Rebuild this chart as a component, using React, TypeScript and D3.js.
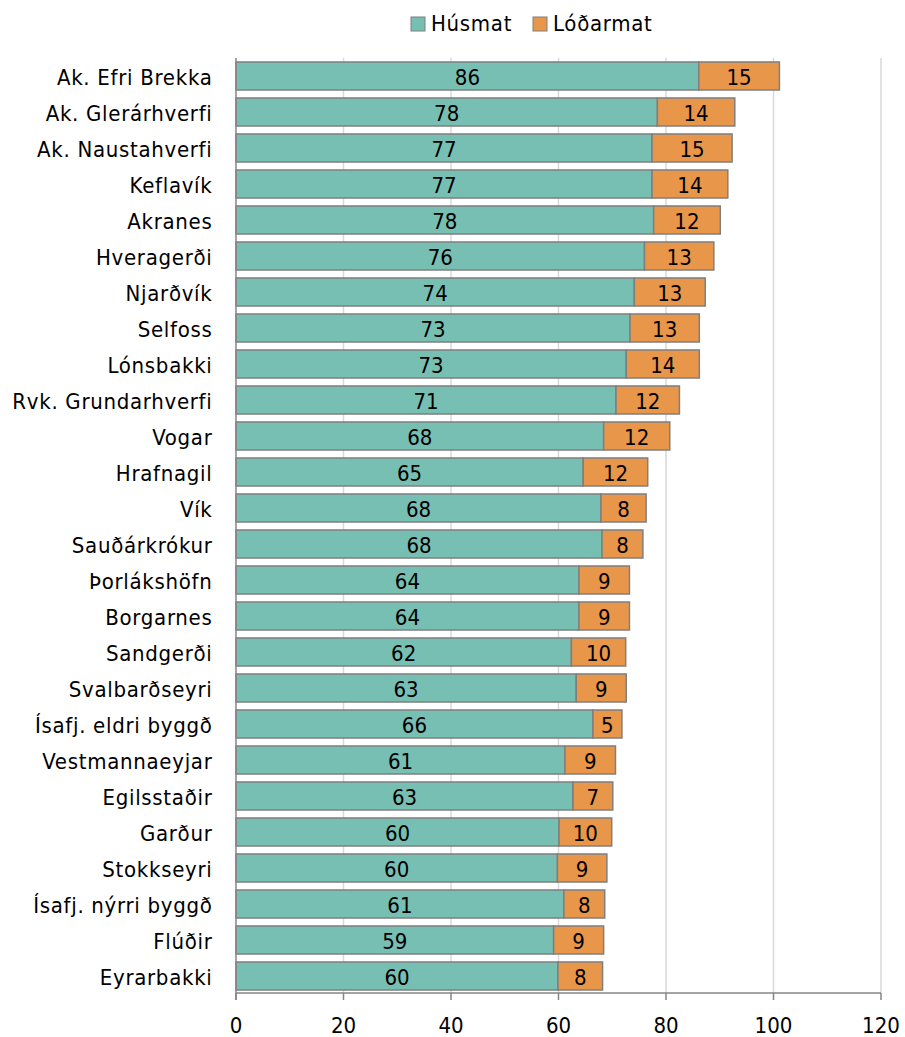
import React from "react";
import * as d3 from "d3";

const categories = [
  "Ak. Efri Brekka", "Ak. Glerárhverfi", "Ak. Naustahverfi", "Keflavík", "Akranes",
  "Hveragerði", "Njarðvík", "Selfoss", "Lónsbakki", "Rvk. Grundarhverfi", "Vogar",
  "Hrafnagil", "Vík", "Sauðárkrókur", "Þorlákshöfn", "Borgarnes", "Sandgerði",
  "Svalbarðseyri", "Ísafj. eldri byggð", "Vestmannaeyjar", "Egilsstaðir", "Garður",
  "Stokkseyri", "Ísafj. nýrri byggð", "Flúðir", "Eyrarbakki",
];
const husmat = [
  86.1, 78.4, 77.4, 77.4, 77.7, 76.0, 74.1, 73.3, 72.6, 70.7, 68.4, 64.6, 67.9,
  68.1, 63.8, 63.8, 62.4, 63.3, 66.4, 61.2, 62.7, 60.1, 59.8, 61.0, 59.1, 59.9,
];
const lodarmat = [
  15.0, 14.4, 14.9, 14.1, 12.4, 12.9, 13.2, 12.9, 13.6, 11.8, 12.3, 12.0, 8.4,
  7.6, 9.4, 9.4, 10.1, 9.3, 5.4, 9.4, 7.4, 9.8, 9.2, 7.6, 9.3, 8.3,
];
const seriesNames = ["Húsmat", "Lóðarmat"];
const seriesColors = ["#78bfb3", "#e8964a"];
const xTicks = [0, 20, 40, 60, 80, 100, 120];

const FONT = "'DejaVu Sans Condensed', 'DejaVu Sans', sans-serif";

export default function App() {
  const width = 905;
  const height = 1037;
  const left = 236;
  const right = 881;
  const top = 58;
  const bottom = 994;

  const x = d3.scaleLinear().domain([0, 120]).range([left, right]);
  const y = d3
    .scaleBand<string>()
    .domain(categories)
    .range([top, bottom])
    .paddingInner(0.222)
    .paddingOuter(0.111);

  const bw = y.bandwidth();

  return (
    <svg
      width={width}
      height={height}
      style={{ position: "absolute", left: 0, top: 0, fontFamily: FONT }}
    >
      <rect width={width} height={height} fill="#fff" />
      {xTicks.slice(1).map((t) => (
        <line
          key={"g" + t}
          x1={x(t)}
          x2={x(t)}
          y1={top}
          y2={bottom - 1}
          stroke="#d9d9d9"
          strokeWidth={1.5}
        />
      ))}
      {categories.map((c, i) => {
        const y0 = y(c)!;
        const h = husmat[i];
        const l = lodarmat[i];
        return (
          <g key={c}>
            <rect
              x={x(0)}
              y={y0}
              width={x(h) - x(0)}
              height={bw}
              fill={seriesColors[0]}
              stroke="#7f7f7f"
              strokeWidth={1.5}
            />
            <rect
              x={x(h)}
              y={y0}
              width={x(h + l) - x(h)}
              height={bw}
              fill={seriesColors[1]}
              stroke="#7f7f7f"
              strokeWidth={1.5}
            />
            <text
              x={(x(0) + x(h)) / 2}
              y={y0 + bw / 2}
              dy="0.4em"
              textAnchor="middle"
              fontSize={22}
              fill="#000"
            >
              {Math.round(h)}
            </text>
            <text
              x={(x(h) + x(h + l)) / 2}
              y={y0 + bw / 2}
              dy="0.4em"
              textAnchor="middle"
              fontSize={22}
              fill="#000"
            >
              {Math.round(l)}
            </text>
            <text
              x={212.5}
              y={y0 + bw / 2}
              dy="0.4em"
              textAnchor="end"
              fontSize={22}
              letterSpacing={0.7}
              fill="#000"
            >
              {c}
            </text>
          </g>
        );
      })}
      <line x1={left} x2={left} y1={top} y2={bottom + 6} stroke="#868686" strokeWidth={1.5} />
      <line x1={left} x2={right} y1={bottom - 1} y2={bottom - 1} stroke="#868686" strokeWidth={1.5} />
      {xTicks.map((t) => (
        <g key={"t" + t}>
          <line x1={x(t)} x2={x(t)} y1={bottom - 1} y2={bottom + 6} stroke="#868686" strokeWidth={1.5} />
          <text x={x(t)} y={1033} textAnchor="middle" fontSize={22} fill="#000">
            {t}
          </text>
        </g>
      ))}
      {seriesNames.map((s, i) => {
        const lx = [411, 533][i];
        return (
          <g key={s}>
            <rect x={lx} y={17} width={14} height={14} fill={seriesColors[i]} stroke="#7f7f7f" strokeWidth={1} />
            <text x={lx + 20} y={30.5} fontSize={22} letterSpacing={0.7} fill="#000">
              {s}
            </text>
          </g>
        );
      })}
    </svg>
  );
}
